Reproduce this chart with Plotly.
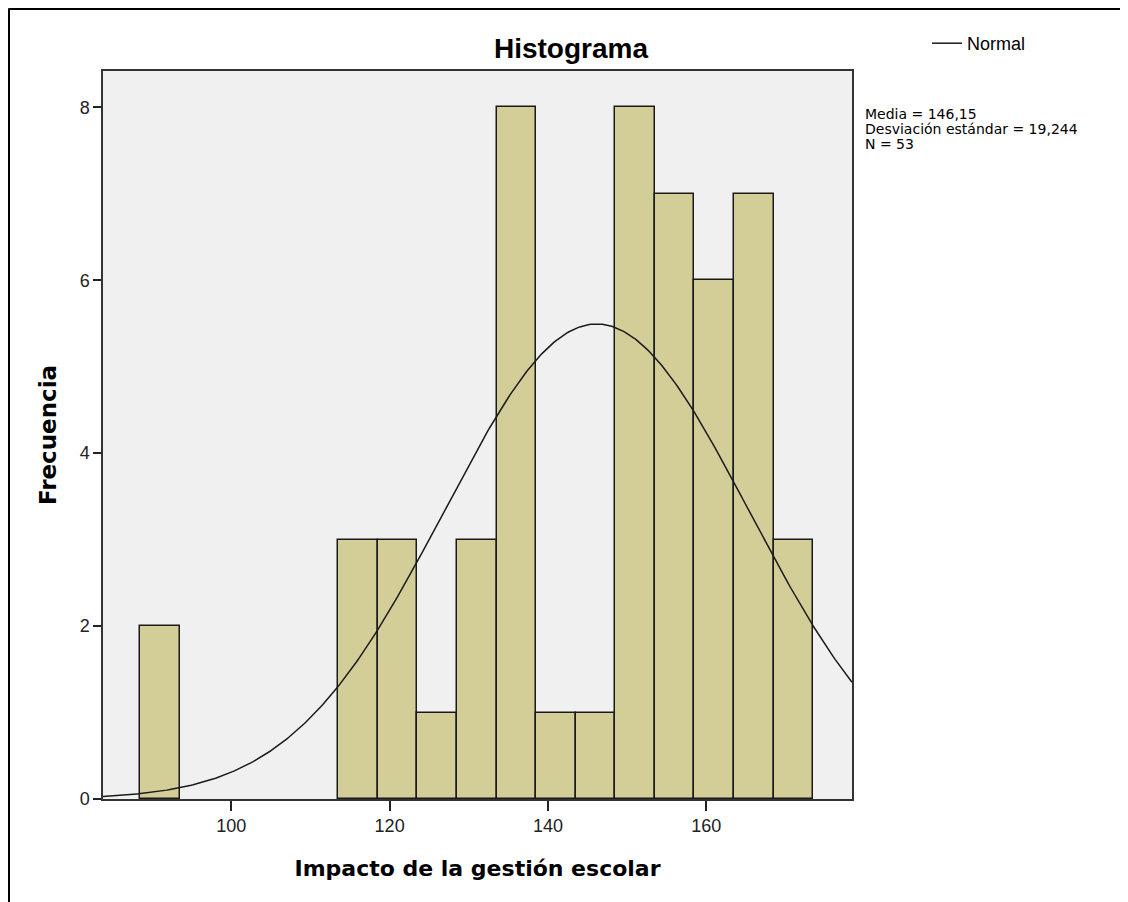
import numpy as np
import plotly.graph_objects as go

# ---- data ----
bin_starts = [88.5, 113.5, 118.5, 123.5, 128.5, 133.5, 138.5, 143.5, 148.5, 153.5, 158.5, 163.5, 168.5]
counts = [2, 3, 3, 1, 3, 8, 1, 1, 8, 7, 6, 7, 3]
bin_width = 5.0
mean_val = 146.15
sd_val = 19.244
n_val = 53
x_ticks = [100, 120, 140, 160]
y_ticks = [0, 2, 4, 6, 8]
x_range = [83.8, 178.4]
y_range = [0, 8.42]

centers = [b + bin_width / 2 for b in bin_starts]

# normal curve defined by the stats shown in the chart
xs = np.linspace(x_range[0], x_range[1], 400)
ys = n_val * bin_width * np.exp(-0.5 * ((xs - mean_val) / sd_val) ** 2) / (sd_val * np.sqrt(2 * np.pi))

OFF = 8  # page body margin
W, H = 1128 - OFF, 902 - OFF
# plot area in page pixels
L, R, T, B = 103 - OFF, 852 - OFF, 71 - OFF, 799 - OFF

fig = go.Figure()
fig.add_trace(go.Bar(
    x=centers, y=counts, width=[bin_width] * len(counts),
    marker=dict(color="#D3CE97", line=dict(color="#1a1a1a", width=1.5)),
    showlegend=False, hoverinfo="x+y",
))
fig.add_trace(go.Scatter(
    x=xs, y=ys, mode="lines", name="Normal",
    line=dict(color="#1a1a1a", width=1.5), showlegend=True,
))

def px_x(p):  # page px -> paper
    return (p - OFF - L) / (R - L)

def px_y(p):
    return (B - (p - OFF)) / (B - T)

axis_font = dict(family="Liberation Sans, Arial, sans-serif", size=18, color="#222")
title_font = dict(family="DejaVu Sans, Verdana, sans-serif", size=22, color="#000", weight="bold")

fig.update_layout(
    width=W, height=H,
    margin=dict(l=L, r=W - R, t=T, b=H - B, autoexpand=False),
    paper_bgcolor="white", plot_bgcolor="#F0F0F0",
    bargap=0,
    title=dict(text="Histograma", x=(571 - OFF) / W, xanchor="center", y=1 - (48 - OFF) / H, yanchor="middle",
               font=dict(family="Liberation Sans, Arial, sans-serif", size=28, color="#000", weight="bold")),
    xaxis=dict(range=x_range, tickvals=x_ticks, ticks="outside", ticklen=10, tickwidth=1.5,
               tickcolor="#222", showgrid=False, zeroline=False, showline=True, linecolor="#333",
               linewidth=1.5, mirror=True, tickfont=axis_font,
               title=dict(text="Impacto de la gestión escolar", font=title_font, standoff=25)),
    yaxis=dict(range=y_range, tickvals=y_ticks, ticks="outside", ticklen=8, tickwidth=1.5,
               tickcolor="#222", showgrid=False, zeroline=False, showline=True, linecolor="#333",
               linewidth=1.5, mirror=True, tickfont=axis_font,
               title=dict(text="Frecuencia", font=dict(title_font, size=23), standoff=17)),
    legend=dict(x=px_x(927), y=px_y(25), xanchor="left", yanchor="top",
                bgcolor="rgba(0,0,0,0)", borderwidth=0,
                font=dict(family="Liberation Sans, Arial, sans-serif", size=18, color="#000"),
                itemwidth=30, tracegroupgap=0),
)

stats_font = dict(family="DejaVu Sans, Verdana, sans-serif", size=14, color="#000")
for txt, yy in [("Media = 146,15", 114), ("Desviación estándar = 19,244", 129), ("N = 53", 144)]:
    fig.add_annotation(text=txt, xref="paper", yref="paper", x=px_x(863), y=px_y(yy),
                       xanchor="left", yanchor="middle", showarrow=False, font=stats_font)

# outer frame of the picture (top and left edges)
fig.add_shape(type="line", xref="paper", yref="paper", x0=px_x(8.5), x1=px_x(1130),
              y0=px_y(8.5), y1=px_y(8.5), line=dict(color="#000", width=3))
fig.add_shape(type="line", xref="paper", yref="paper", x0=px_x(8.5), x1=px_x(8.5),
              y0=px_y(8.5), y1=px_y(905), line=dict(color="#000", width=3))

fig.write_html("out.html")
